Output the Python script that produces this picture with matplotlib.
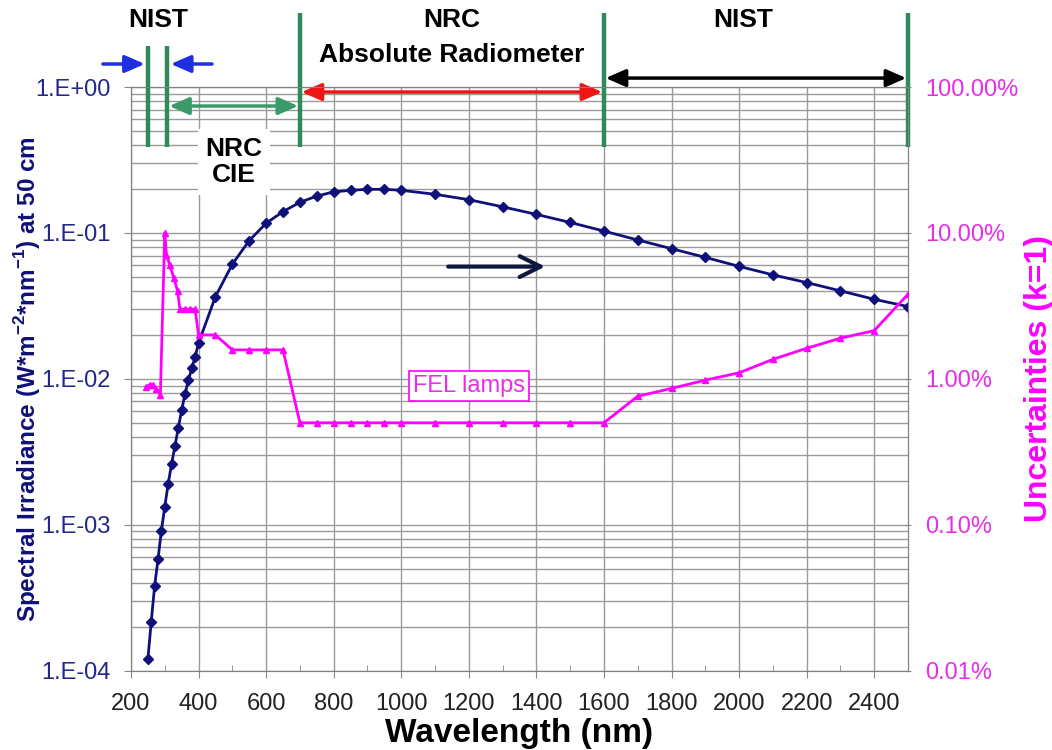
import numpy as np
import matplotlib
matplotlib.use("Agg")
import matplotlib.pyplot as plt
from matplotlib.ticker import MultipleLocator, LogLocator, FuncFormatter, NullFormatter, NullLocator

plt.rcParams["font.family"] = ["Liberation Sans", "DejaVu Sans"]
plt.rcParams["mathtext.fontset"] = "custom"
plt.rcParams["mathtext.rm"] = "Liberation Sans"
plt.rcParams["mathtext.bf"] = "Liberation Sans:bold"

# spectral irradiance of FEL lamp (W m-2 nm-1 at 50 cm)
wl_irr = [250, 260, 270, 280, 290, 300, 310, 320, 330, 340, 350, 360, 370, 380, 390, 400,
          450, 500, 550, 600, 650, 700, 750, 800, 850, 900, 950, 1000,
          1100, 1200, 1300, 1400, 1500, 1600, 1700, 1800, 1900, 2000, 2100, 2200, 2300, 2400, 2500]
irr = [1.2e-4, 2.17e-4, 3.8e-4, 5.8e-4, 9.1e-4, 1.33e-3, 1.9e-3, 2.6e-3, 3.45e-3, 4.6e-3,
       6.1e-3, 7.9e-3, 9.8e-3, 1.18e-2, 1.42e-2, 1.76e-2,
       0.0366, 0.061, 0.0886, 0.1165, 0.140, 0.162, 0.179, 0.191, 0.196, 0.199, 0.199, 0.196,
       0.184, 0.169, 0.151, 0.134, 0.118, 0.103, 0.0895, 0.078, 0.068, 0.059, 0.0516, 0.0457,
       0.0401, 0.0351, 0.0313]

# uncertainties (k=1), percent
wl_unc = [245, 255, 265, 275, 287, 300, 305, 315, 327, 338, 345, 360, 375, 390, 400,
          450, 500, 550, 600, 650, 700, 750, 800, 850, 900, 950, 1000,
          1100, 1200, 1300, 1400, 1500, 1600, 1700, 1800, 1900, 2000, 2100, 2200, 2300, 2400, 2500]
unc_pct = [0.88, 0.91, 0.91, 0.85, 0.78, 10.0, 7.1, 6.0, 4.9, 4.0, 3.0, 3.0, 3.0, 3.0, 2.0,
           2.0, 1.58, 1.58, 1.58, 1.58, 0.5, 0.5, 0.5, 0.5, 0.5, 0.5, 0.5,
           0.5, 0.5, 0.5, 0.5, 0.5, 0.5, 0.76, 0.86, 0.98, 1.10, 1.36, 1.62, 1.90, 2.14, 3.8]

# calibration ranges (nm)
bounds = [250, 308, 700, 1600, 2500]

NAVY = "#10107a"
NAVY_T = "#22288a"
MAG = "#ff00ff"
MAG_T = "#e62ee6"
GREEN = "#2e8b57"
GRID = "#9a9a9a"

fig = plt.figure(figsize=(10.52, 7.5), dpi=100)
fig.patch.set_facecolor("white")
ax = fig.add_axes([0.1245, 0.1057, 0.7386, 0.7783])

ax.set_yscale("log")
ax.set_xlim(200, 2500)
ax.set_ylim(1e-4, 1)
ax.plot(wl_irr, irr, "-D", color=NAVY, ms=4.8, lw=2, zorder=3)

ax.xaxis.set_major_locator(MultipleLocator(200))
ax.xaxis.set_minor_locator(MultipleLocator(100))
ax.yaxis.set_major_locator(LogLocator(base=10, numticks=10))
ax.yaxis.set_minor_locator(LogLocator(base=10, subs=np.arange(2, 10), numticks=10))
ax.yaxis.set_minor_formatter(NullFormatter())
ax.yaxis.set_major_formatter(FuncFormatter(lambda v, p: f"1.E{int(round(np.log10(v))):+03d}"))
ax.xaxis.grid(True, which="major", color=GRID, lw=1)
ax.xaxis.grid(False, which="minor")
ax.yaxis.grid(True, which="both", color=GRID, lw=1)
ax.set_axisbelow(True)

ax.tick_params(axis="y", which="major", labelsize=17, labelcolor=NAVY_T, color="#888", length=5, pad=10)
ax.tick_params(axis="y", which="minor", length=0)
ax.tick_params(axis="x", which="major", labelsize=17, labelcolor="#222", color="#888", length=5,
               direction="out", pad=11)
ax.tick_params(axis="x", which="minor", color="#888", length=4, direction="in")

ax.set_xlabel("Wavelength (nm)", fontsize=24, fontweight="bold", labelpad=2)
ax.set_ylabel(r"Spectral Irradiance (W*m$^{\mathbf{-2}}$*nm$^{\mathbf{-1}}$) at 50 cm",
              fontsize=17.5, fontweight="bold", color=NAVY)
ax.yaxis.set_label_coords(-0.113, 0.5)

ax2 = ax.twinx()
ax2.set_yscale("log")
ax2.set_ylim(0.01, 100)
ax2.plot(wl_unc, unc_pct, "-^", color=MAG, ms=5, lw=2, zorder=4)
ax2.yaxis.set_major_locator(LogLocator(base=10, numticks=10))
ax2.yaxis.set_minor_locator(NullLocator())
ax2.yaxis.set_major_formatter(FuncFormatter(lambda v, p: f"{v:.2f}%"))
ax2.tick_params(axis="y", labelsize=17, labelcolor=MAG_T, color="#888", length=5,
                direction="inout", pad=10)
ax2.set_ylabel("Uncertainties (k=1)", fontsize=23, fontweight="bold", color=MAG, labelpad=4)

for a in (ax, ax2):
    for s in a.spines.values():
        s.set_color("#808080")

# range markers above the plot
tr = ax.get_xaxis_transform()
ax.vlines(bounds[:2], 0.8974, 1.0702, color=GREEN, lw=3.2, transform=tr, clip_on=False, zorder=5)
ax.vlines(bounds[2:], 0.8974, 1.1268, color=GREEN, lw=3.2, transform=tr, clip_on=False, zorder=5)

def arrow(x0, x1, y, color, style):
    ax.annotate("", xy=(x1, y), xytext=(x0, y), xycoords=tr, textcoords=tr,
                arrowprops=dict(arrowstyle=style, color=color, lw=2.5, mutation_scale=15,
                                shrinkA=0, shrinkB=0), annotation_clip=False, zorder=6)

arrow(117, 241, 1.0394, "#1f2fe0", "-|>,head_length=0.8,head_width=0.35")
arrow(440, 318, 1.0394, "#1f2fe0", "-|>,head_length=0.8,head_width=0.35")
arrow(bounds[1] + 5, bounds[2] - 5, 0.9674, "#3a9a6a", "<|-|>,head_length=0.8,head_width=0.35")
arrow(bounds[2] + 5, bounds[3] - 5, 0.9914, "#ee1515", "<|-|>,head_length=0.8,head_width=0.35")
arrow(bounds[3] + 5, bounds[4] - 5, 1.0153, "black", "<|-|>,head_length=0.8,head_width=0.35")

ax.annotate("", xy=(1426, 0.0588), xytext=(1139, 0.0588),
            arrowprops=dict(arrowstyle="->,head_length=0.6,head_width=0.3", color="#0d1840",
                            lw=3, mutation_scale=25, shrinkA=0, shrinkB=0), zorder=6)

def ftxt(px, py, s, **kw):
    fig.text(px / 1052, 1 - py / 750, s, ha="center", va="center", fontsize=19,
             fontweight="bold", **kw)

ftxt(158, 20, "NIST")
ftxt(452, 20, "NRC")
ftxt(452, 55, "Absolute Radiometer")
ftxt(743, 20, "NIST")
ftxt(234, 162, "NRC\nCIE", linespacing=1.15, zorder=7,
     bbox=dict(boxstyle="square,pad=0.3", fc="white", ec="none"))

ax2.text(0.435, 0.4878, "FEL lamps", transform=ax2.transAxes, ha="center", va="center",
         fontsize=17, color=MAG_T, zorder=7,
         bbox=dict(boxstyle="square,pad=0.15", fc="white", ec=MAG, lw=1.2))

fig.savefig("out.png", dpi=100, facecolor="white")
